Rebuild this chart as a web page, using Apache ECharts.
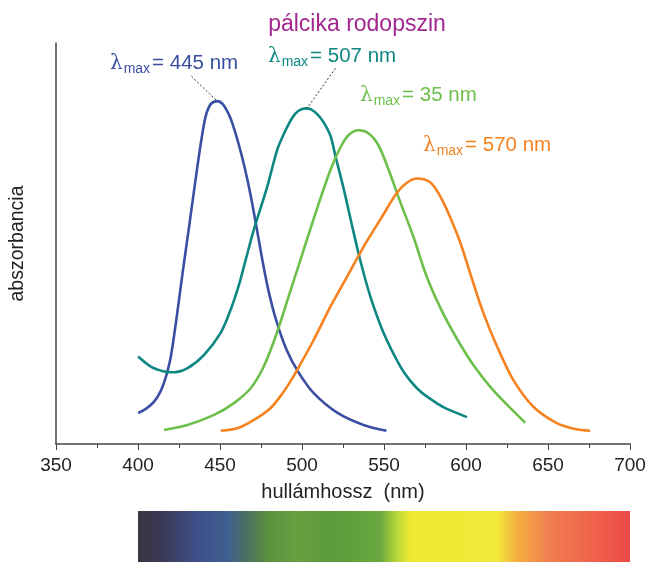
<!DOCTYPE html>
<html>
<head>
<meta charset="utf-8">
<script src="https://cdn.jsdelivr.net/npm/echarts@6/dist/echarts.min.js"></script>
<style>html,body{margin:0;padding:0;background:#fff}#c{width:650px;height:562px}</style>
</head>
<body>
<div id="c"></div>
<script>
// ---- data (wavelength nm, relative absorbance) ----
const title = 'pálcika rodopszin';
const xTicks = [350, 400, 450, 500, 550, 600, 650, 700];
const xName = 'hullámhossz  (nm)';
const yName = 'abszorbancia';

const blue445 = [[400.1,7.7],[404.8,8.75],[409.7,10.5],[413.9,13.25],[417,16.75],[420,21.75],[423.7,32],[427.3,43],[431.6,55.5],[435.8,68],[438.9,76.5],[441.3,81.75],[444.3,84.75],[448.4,85.5],[451.7,84.75],[455.3,82.25],[457.7,79.75],[461.4,74.75],[465,69],[468.7,62],[472.3,54],[476,45.5],[479.7,38],[484.5,30.5],[490.6,23.5],[497.3,18.25],[507,12.75],[521.7,7.75],[537.5,4.75],[551.5,3.3]];
const teal507 = [[400.1,21.8],[407.8,19.3],[415.9,18.1],[422,17.9],[430.2,18.9],[440.3,22.25],[450.4,27.7],[456.5,33.5],[461.6,39.75],[465.7,46],[470.7,53.5],[478.9,64.3],[485,73.5],[490,78.25],[494.3,81.5],[497.9,83.1],[502.2,83.7],[505.8,83.4],[509.3,82.25],[513.1,80.25],[517.4,76.8],[520.4,71.8],[525.5,63.5],[530.6,54.3],[535.7,45.5],[541.7,36.75],[549.7,27.75],[560,19.3],[566.1,15.75],[572.2,13.1],[579.5,10.9],[586.2,9.2],[600.6,6.7]];
const green535 = [[415.9,3.5],[430.2,4.75],[446.4,7.25],[458.5,10.2],[468.7,13.9],[476.6,19.25],[484.5,27.5],[491.8,36.75],[499.1,46],[506.4,55.25],[512.5,62.75],[518,69],[523.5,74],[528.3,77],[534.4,78.25],[540.5,77.5],[546.6,74.5],[552.7,68.5],[560,60.25],[567.9,51.75],[575.8,42],[584.3,34],[594.1,26.5],[604.4,19.75],[614.8,14.25],[625.1,9.75],[636.1,5.3]];
const orange570 = [[450.4,3.3],[460.6,3.9],[470.7,6],[480.9,9],[487,12],[492,15],[497.1,18.5],[507.2,26],[517.4,34.3],[527.6,41.8],[537.7,49.3],[547.8,56],[558,62.7],[564.1,65.2],[570.2,66.2],[578.3,65.2],[584.3,61.75],[590.4,56.5],[596.5,50.25],[602.6,42.5],[610.5,32.75],[619,24.25],[628.8,16],[641.1,9.3],[655.4,5.2],[666.5,3.75],[675.7,3.3]];

const seriesNames = ['445', '507', '535', '570'];
const labelTexts = ['= 445 nm', '= 507 nm', '= 35 nm', '= 570 nm'];
// dashed leader lines (data coords): [from, to]
const leaderBlue = [[432.6,91.7],[448,85.6]];
const leaderTeal = [[520.4,93.7],[503.2,83.8]];

// spectrum bar colour stops (wavelength -> colour)
const spectrumNm = [400, 415.7, 436.2, 454.5, 466.7, 478.8, 497, 517.4, 547.8, 558, 566, 618.8, 631, 649.3, 700];
const spectrumCol = ['#3a3440','#3a3a58','#40508a','#3e6090','#4a7060','#5a9040','#68a040','#5c9a3c','#6aa840','#b8d838','#f0e830','#f2e83a','#f5b040','#f08050','#ee4a48'];

const colors = ['#3a4fa2', '#0e8783', '#6dbf4b', '#f5821f'];
const axisCol = '#444';
const font = 'Liberation Sans, Arial, sans-serif';

const chart = echarts.init(document.getElementById('c'), null, {renderer: 'canvas'});

const gridL = 55, gridR = 20, gridT = 43, gridB = 118;
const xMin = 350, xMax = 700;

function mkSeries(i, data, extra) {
  return Object.assign({
    name: seriesNames[i], type: 'line', data: data, smooth: 0.3,
    showSymbol: false, symbol: 'none',
    lineStyle: {color: colors[i], width: 2.6}, z: 3, silent: true
  }, extra || {});
}

const leaderStyle = {color: '#333', width: 1, type: [2, 2]};

const option = {
  animation: false,
  grid: {left: gridL, right: gridR, top: gridT, bottom: gridB},
  xAxis: {
    type: 'value', min: xMin, max: xMax, interval: 50,
    axisLine: {lineStyle: {color: axisCol, width: 1.5}},
    axisTick: {show: true, length: 6, lineStyle: {color: axisCol, width: 1}},
    minorTick: {show: true, splitNumber: 2, length: 4, lineStyle: {color: axisCol, width: 1}},
    splitLine: {show: false},
    axisLabel: {color: '#222', fontSize: 19, fontFamily: font, margin: 12,
      formatter: v => xTicks.includes(v) ? String(v) : ''},
    name: xName, nameLocation: 'middle', nameGap: 38,
    nameTextStyle: {color: '#222', fontSize: 20, fontFamily: font}
  },
  yAxis: {
    type: 'value', min: 0, max: 100,
    axisLine: {show: true, lineStyle: {color: axisCol, width: 1.5}},
    axisTick: {show: false}, axisLabel: {show: false}, splitLine: {show: false},
    name: yName, nameLocation: 'middle', nameGap: 28,
    nameTextStyle: {color: '#222', fontSize: 19.5, fontFamily: font}
  },
  title: {
    text: title, left: 352, top: 8, textAlign: 'center',
    textStyle: {color: '#a2278f', fontSize: 23, fontWeight: 'normal', fontFamily: font}
  },
  series: [
    mkSeries(0, blue445, {markLine: {silent: true, symbol: 'none', label: {show: false}, lineStyle: leaderStyle,
      data: [[{coord: leaderBlue[0]}, {coord: leaderBlue[1]}]]}}),
    mkSeries(1, teal507, {markLine: {silent: true, symbol: 'none', label: {show: false}, lineStyle: leaderStyle,
      data: [[{coord: leaderTeal[0]}, {coord: leaderTeal[1]}]]}}),
    mkSeries(2, green535),
    mkSeries(3, orange570)
  ]
};
chart.setOption(option);

// spectrum bar, aligned with the x scale
const x0 = chart.convertToPixel({xAxisIndex: 0}, spectrumNm[0]);
const x1 = chart.convertToPixel({xAxisIndex: 0}, spectrumNm[spectrumNm.length - 1]);
const span = spectrumNm[spectrumNm.length - 1] - spectrumNm[0];
const stops = spectrumNm.map((nm, i) => ({offset: (nm - spectrumNm[0]) / span, color: spectrumCol[i]}));

function lamLabel(i, x, y) {
  return {
    type: 'text', left: x, top: y,
    style: {
      text: '{l|λ}{s|max}{n|' + labelTexts[i] + '}',
      fill: colors[i],
      rich: {
        l: {fontSize: 20, fontFamily: 'DejaVu Serif, serif', fill: colors[i], lineHeight: 26, verticalAlign: 'middle'},
        s: {fontSize: 14, fontFamily: font, fill: colors[i], lineHeight: 26, verticalAlign: 'bottom', padding: [0, 2, 0, 1]},
        n: {fontSize: 20.5, fontFamily: font, fill: colors[i], lineHeight: 26, verticalAlign: 'middle'}
      }
    }
  };
}

chart.setOption({
  graphic: [
    {type: 'rect', shape: {x: x0, y: 511, width: x1 - x0, height: 51}, silent: true,
     style: {fill: new echarts.graphic.LinearGradient(0, 0, 1, 0, stops)}},
    lamLabel(0, 110, 53),
    lamLabel(1, 268, 46),
    lamLabel(2, 360, 85),
    lamLabel(3, 423, 135)
  ]
});
</script>
</body>
</html>
